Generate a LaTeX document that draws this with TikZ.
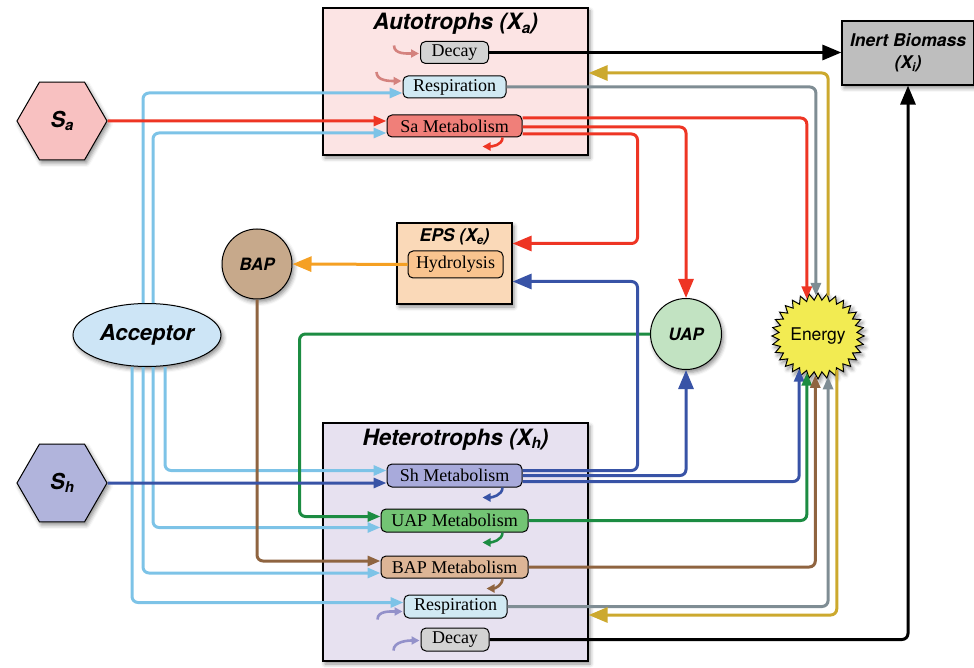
\documentclass[tikz,border=0pt]{standalone}
\usepackage{fontspec}
\setmainfont{Liberation Serif}
\setsansfont{TeX Gyre Heros}
\usetikzlibrary{positioning, arrows.meta, calc, shapes.geometric, shapes.symbols, shadows.blur}

\makeatletter
\newcommand{\lowsub}[1]{\raisebox{-0.3ex}{\fontsize{\the\dimexpr 0.68\dimexpr\f@size pt\relax\relax}{0pt}\selectfont #1}}
\makeatother

\definecolor{autofill}{HTML}{FCE4E4}
\definecolor{hetfill}{HTML}{E7E1F0}
\definecolor{epsfill}{HTML}{FAD9B8}
\definecolor{hydrofill}{HTML}{F9C48F}
\definecolor{decayfill}{HTML}{D3D3D3}
\definecolor{respfill}{HTML}{D1E9F3}
\definecolor{safill}{HTML}{F07F79}
\definecolor{shfill}{HTML}{A8AADB}
\definecolor{uapmfill}{HTML}{73C474}
\definecolor{bapmfill}{HTML}{DDB596}
\definecolor{inertfill}{HTML}{BEBEBE}
\definecolor{sahex}{HTML}{F8C1C1}
\definecolor{shhex}{HTML}{B1B4DC}
\definecolor{accfill}{HTML}{CDE5F6}
\definecolor{bapfill}{HTML}{C7A98B}
\definecolor{uapfill}{HTML}{C2E3C2}
\definecolor{energyfill}{HTML}{F2EB52}
\definecolor{redline}{HTML}{EE3524}
\definecolor{skyline}{HTML}{7DC3E7}
\definecolor{blueline}{HTML}{3853A6}
\definecolor{greenline}{HTML}{1C8C42}
\definecolor{brownline}{HTML}{8F6440}
\definecolor{grayline}{HTML}{7F8D94}
\definecolor{goldline}{HTML}{CCA92E}
\definecolor{orangeline}{HTML}{F5A023}
\definecolor{pinkself}{HTML}{D4827E}
\definecolor{lavself}{HTML}{9391CA}

\tikzset{
  shade/.style={
    blur shadow={shadow xshift=2pt, shadow yshift=-3pt, shadow blur radius=4pt, shadow opacity=45}
  },
  group/.style={
    draw,
    line width=1.2pt,
    minimum width=265pt,
    shade
  },
  grouptitle/.style={
    font=\sffamily\bfseries\itshape\fontsize{22.5}{26}\selectfont,
    inner sep=2pt
  },
  process/.style={
    draw,
    rounded corners=5pt,
    line width=1pt,
    minimum height=22pt,
    inner sep=0pt,
    font=\fontsize{18}{21}\selectfont
  },
  pool/.style={
    draw,
    circle,
    line width=1pt,
    minimum size=70pt,
    inner sep=0pt,
    font=\sffamily\bfseries\itshape\fontsize{17}{20}\selectfont,
    shade
  },
  substrate/.style={
    draw,
    regular polygon,
    regular polygon sides=6,
    minimum size=90pt,
    inner sep=0pt,
    line width=1pt,
    font=\sffamily\bfseries\itshape\fontsize{22}{24}\selectfont,
    shade
  },
  flow/.style={
    line width=3pt,
    rounded corners=6pt,
    -{Triangle[length=13pt,width=10pt]}
  },
  bigflow/.style={
    flow,
    -{Triangle[length=19pt,width=15pt]}
  },
  selfloop/.style={
    line width=2.6pt,
    -{Triangle[length=8pt,width=8pt]}
  }
}

\begin{document}
\begin{tikzpicture}[x=1pt, y=-1pt]
    \useasboundingbox (0,0) rectangle (974,668);

    \node[group, fill=autofill, minimum height=147pt] (autobox) at (455.5,81.5) {};
    \node[grouptitle, below=4pt of autobox.north] (autotitle) {Autotrophs (X\lowsub{a})};
    \node[process, fill=decayfill, minimum width=68pt] (decA) at (454.5,52.5) {Decay};
    \node[process, fill=respfill, minimum width=103pt] (resA) at (454.5,87) {Respiration};
    \node[process, fill=safill, minimum width=135pt] (saMet) at (454.5,126) {Sa Metabolism};

    \node[group, fill=hetfill, minimum height=238pt] (hetbox) at (455.5,542) {};
    \node[grouptitle, below=4pt of hetbox.north] (hettitle) {Heterotrophs (X\lowsub{h})};
    \node[process, fill=shfill, minimum width=135pt, minimum height=23pt] (shMet) at (454.5,475.5) {Sh Metabolism};
    \node[process, fill=uapmfill, minimum width=147pt, minimum height=23pt] (uapMet) at (454.5,520.5) {UAP Metabolism};
    \node[process, fill=bapmfill, minimum width=147pt] (bapMet) at (454.5,567) {BAP Metabolism};
    \node[process, fill=respfill, minimum width=103pt, minimum height=23pt] (resH) at (455.5,606.5) {Respiration};
    \node[process, fill=decayfill, minimum width=68pt, minimum height=23pt] (decH) at (455,639.5) {Decay};

    \node[draw, line width=1.2pt, fill=epsfill, minimum width=115pt, minimum height=81pt, shade] (eps) at (454.5,263.5) {};
    \node[font=\sffamily\bfseries\itshape\fontsize{17.5}{20}\selectfont, inner sep=2pt, below=4pt of eps.north] (epstitle) {EPS (X\lowsub{e})};
    \node[process, fill=hydrofill, minimum width=95pt, minimum height=27pt] (hydro) at (455.5,264.5) {Hydrolysis};

    \node[draw, line width=1.2pt, fill=inertfill, minimum width=132pt, minimum height=64pt, align=center,
          font=\sffamily\bfseries\itshape\fontsize{17.5}{22}\selectfont, shade] (inert) at (908,53) {Inert Biomass\\(X\lowsub{i})};

    \node[substrate, fill=sahex] (Sa) at (62,121) {S\lowsub{a}};
    \node[substrate, fill=shhex] (Sh) at (62,483) {S\lowsub{h}};
    \node[draw, ellipse, line width=1pt, fill=accfill, minimum width=148pt, minimum height=63pt, inner sep=0pt,
          font=\sffamily\bfseries\itshape\fontsize{22}{26}\selectfont, shade] (acc) at (147,335) {Acceptor};
    \node[pool, fill=bapfill] (BAP) at (257,264) {BAP};
    \node[pool, fill=uapfill, minimum size=71pt] (UAP) at (686,334) {UAP};
    \node[draw, starburst, starburst points=32, starburst point height=7pt, random starburst=0, line width=1pt,
          fill=energyfill, minimum size=86pt, inner sep=0pt, font=\sffamily\fontsize{17.5}{20}\selectfont, shade] (energy) at (818,336) {Energy};

    \draw[flow, skyline] ($(acc.north)+(-4,0)$) |- ($(resA.west)+(0,6)$);
    \draw[flow, skyline] ($(acc.north)+(6,0)$) |- ($(saMet.west)+(0,7)$);
    \draw[flow, skyline] ($(acc.south)+(18,0)$) |- ($(shMet.west)+(0,-5)$);
    \draw[flow, skyline] ($(acc.south)+(6,0)$) |- ($(uapMet.west)+(0,7)$);
    \draw[flow, skyline] ($(acc.south)+(-4,0)$) |- ($(bapMet.west)+(0,6)$);
    \draw[flow, skyline] ($(acc.south)+(-15,0)$) |- ($(resH.west)+(0,-4)$);

    \draw[flow, redline] (Sa) -- (Sa -| saMet.west);
    \draw[flow, brownline] (BAP) |- ($(bapMet.west)+(0,-6)$);
    \draw[flow, greenline] (UAP) -| ($(uapMet.west)+(-81,-4)$) -- ($(uapMet.west)+(0,-4)$);
    \draw[flow, blueline] (Sh) -- (Sh -| shMet.west);
    \draw[bigflow, orangeline] (hydro) -- (BAP);

    \draw[flow, redline] ($(saMet.east)+(0,-8)$) -| (energy.107);
    \draw[bigflow, redline] ($(saMet.east)+(0,1)$) -| (UAP);
    \draw[bigflow, redline] ($(saMet.east)+(0,8)$) -- ++(115,0) |- ($(eps.east)+(0,-20)$);

    \draw[bigflow, blueline] ($(shMet.east)+(0,-5)$) -- ++(115,0) |- ($(eps.east)+(0,18)$);
    \draw[bigflow, blueline] (shMet.east) -| (UAP);
    \draw[flow, blueline] ($(shMet.east)+(0,6)$) -| (energy.-120);
    \draw[flow, greenline] (uapMet) -| (energy.-107);
    \draw[flow, brownline] (bapMet) -| (energy.-94);
    \draw[flow, grayline] (resH) -| (energy.-76);
    \draw[flow, grayline] (resA) -| (energy.93);
    \draw[bigflow, goldline] (energy.-61) |- ($(hetbox.east)+(0,73)$);
    \draw[bigflow, goldline] (energy.76) |- ($(autobox.east)+(0,-8.5)$);

    \draw[bigflow, black] (decA) -- (decA -| inert.west);
    \draw[bigflow, black] (decH) -| (inert);

    \draw[selfloop, pinkself] ($(decA.west)+(-26,-7)$) .. controls +(0,9) and +(-12,0) .. ($(decA.west)+(-1,1)$);
    \draw[selfloop, pinkself] ($(resA.west)+(-26,-15)$) .. controls +(0,9) and +(-12,0) .. ($(resA.west)+(-1,-6)$);
    \draw[selfloop, redline] ($(saMet.south)+(48,0)$) .. controls +(0,8) and +(9,0) .. ($(saMet.south)+(28,9)$);
    \draw[selfloop, blueline] ($(shMet.south)+(48,0)$) .. controls +(0,8) and +(9,0) .. ($(shMet.south)+(28,10)$);
    \draw[selfloop, greenline] ($(uapMet.south)+(48,0)$) .. controls +(0,8) and +(9,0) .. ($(uapMet.south)+(28,10)$);
    \draw[selfloop, brownline] ($(bapMet.south)+(48,0)$) .. controls +(0,7) and +(8,0) .. ($(bapMet.south)+(32,10)$);
    \draw[selfloop, lavself] ($(resH.west)+(-26,13)$) .. controls +(0,-9) and +(-12,0) .. ($(resH.west)+(-1,5)$);
    \draw[selfloop, lavself] ($(decH.west)+(-27,11)$) .. controls +(0,-9) and +(-12,0) .. ($(decH.west)+(-1,1)$);
\end{tikzpicture}
\end{document}
